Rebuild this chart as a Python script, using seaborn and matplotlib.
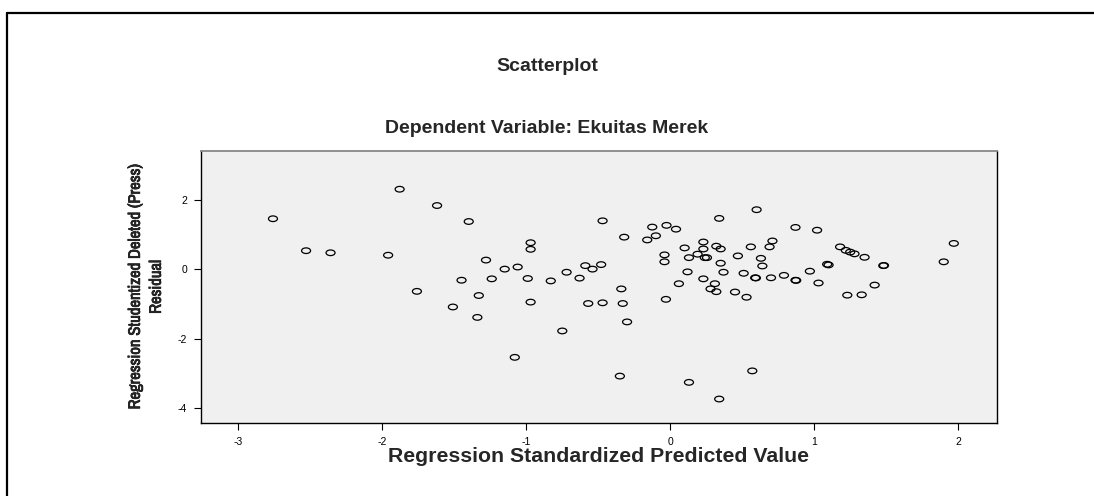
import matplotlib
matplotlib.use("Agg")
import matplotlib.pyplot as plt
import matplotlib.patheffects as pe
import seaborn as sns
import pandas as pd
from matplotlib.path import Path
from matplotlib.transforms import Affine2D
from matplotlib.lines import Line2D
from matplotlib import font_manager

pred_std = [
    -2.76, -1.88, -1.62, -1.40, -2.53, -2.36, -1.96, -1.45, -1.76, -1.51,
    -0.47, 0.34, -0.125, -0.026, 0.04, -0.32, -0.16, -0.10, -0.97, -0.97,
    -1.28, -1.15, -1.06, -1.24, -0.99, -0.83, -0.72, -0.63, -0.59, -0.54,
    -0.48, -1.33, -1.34, -0.97, -0.57, -0.47, -0.34, -0.33, -0.30, -0.75,
    -1.08, -0.35, 0.13, 0.34, -0.04, -0.04, -0.03, 0.06, 0.12, 0.10,
    0.13, 0.19, 0.23, 0.23, 0.24, 0.255, 0.32, 0.35, 0.35, 0.37,
    0.23, 0.31, 0.28, 0.32, 0.60, 0.87, 1.02, 0.71, 0.69, 0.56,
    0.47, 0.63, 0.64, 0.51, 0.59, 0.595, 0.70, 0.79, 0.87, 0.875,
    0.97, 1.03, 0.45, 0.53, 1.18, 1.22, 1.25, 1.28, 1.35, 1.09,
    1.10, 1.48, 1.485, 1.42, 1.23, 1.33, 1.97, 1.90, 0.57,
]
resid_stud = [
    1.46, 2.31, 1.84, 1.38, 0.54, 0.48, 0.41, -0.31, -0.63, -1.08,
    1.40, 1.47, 1.22, 1.27, 1.16, 0.93, 0.85, 0.97, 0.77, 0.58,
    0.27, 0.01, 0.07, -0.27, -0.26, -0.33, -0.08, -0.25, 0.11, 0.01,
    0.14, -0.75, -1.38, -0.94, -0.98, -0.96, -0.56, -0.98, -1.51, -1.77,
    -2.53, -3.07, -3.25, -3.73, 0.42, 0.22, -0.86, -0.41, -0.07, 0.62,
    0.34, 0.44, 0.79, 0.59, 0.34, 0.34, 0.67, 0.59, 0.18, -0.08,
    -0.27, -0.41, -0.56, -0.64, 1.72, 1.21, 1.13, 0.82, 0.65, 0.65,
    0.39, 0.32, 0.10, -0.11, -0.24, -0.245, -0.24, -0.17, -0.31, -0.315,
    -0.05, -0.39, -0.65, -0.80, 0.65, 0.55, 0.50, 0.45, 0.35, 0.15,
    0.13, 0.11, 0.115, -0.45, -0.74, -0.73, 0.75, 0.22, -2.92,
]
x_ticks = [-3, -2, -1, 0, 1, 2]
y_ticks = [-4, -2, 0, 2]

df = pd.DataFrame({"pred": pred_std, "resid": resid_stud})

sns.set_style("white")
plt.rcParams["font.family"] = ["Liberation Sans", "DejaVu Sans"]
plt.rcParams["axes.unicode_minus"] = False  # SPSS uses a plain hyphen

# narrow face for the y label if one is around
narrow = sorted(set(f.name for f in font_manager.fontManager.ttflist
                    if "Narrow" in f.name or "Condensed" in f.name))
if "Liberation Sans Narrow" in narrow:
    narrow_family = "Liberation Sans Narrow"
elif narrow:
    narrow_family = narrow[0]
else:
    narrow_family = None

fig = plt.figure(figsize=(10.94, 4.96), dpi=100)
ax = fig.add_axes([201 / 1094, 1 - 423 / 496, 796 / 1094, 272 / 496])
ax.set_facecolor("#f0f0f0")

# SPSS draws squashed open circles (wider than tall)
ellipse = Path.unit_circle().transformed(Affine2D().scale(1.6, 1.0))
sns.scatterplot(data=df, x="pred", y="resid", ax=ax, marker=ellipse,
                s=42, facecolor="none", edgecolor="black", linewidth=0.9)

ax.set_xlim(-3.26, 2.27)
ax.set_ylim(-4.42, 3.41)
ax.set_xticks(x_ticks)
ax.set_yticks(y_ticks)
ax.tick_params(direction="out", length=5, width=0.8, labelsize=7.5,
               bottom=True, left=True, colors="black", pad=5)

for side in ["left", "bottom", "right"]:
    ax.spines[side].set_color("black")
    ax.spines[side].set_linewidth(1.0)
ax.spines["top"].set_color("#888888")
ax.spines["top"].set_linewidth(1.3)

ax.set_xlabel("Regression Standardized Predicted Value", fontsize=15.3,
              fontweight="bold", labelpad=0)

ylab = "Regression Studentized Deleted (Press)\nResidual"
if narrow_family:
    ax.set_ylabel(ylab, fontsize=12, fontweight="bold", labelpad=10,
                  family=narrow_family, linespacing=1.5,
                  path_effects=[pe.withStroke(linewidth=0.5, foreground="black")])
else:
    ax.set_ylabel(ylab, fontsize=10, fontweight="bold", labelpad=10,
                  linespacing=1.6)

fig.text(547 / 1094, 1 - 67 / 496, "Scatterplot", ha="center", va="center",
         fontsize=14, fontweight="bold")
fig.text(547 / 1094, 1 - 129 / 496, "Dependent Variable: Ekuitas Merek",
         ha="center", va="center", fontsize=14, fontweight="bold")

# frame around the output block
fig.add_artist(Line2D([7 / 1094, 7 / 1094], [0, 1 - 13 / 496],
                      transform=fig.transFigure, color="black", lw=1.6))
fig.add_artist(Line2D([7 / 1094, 1], [1 - 13 / 496, 1 - 13 / 496],
                      transform=fig.transFigure, color="black", lw=1.6))

fig.savefig("out.png", dpi=100)
